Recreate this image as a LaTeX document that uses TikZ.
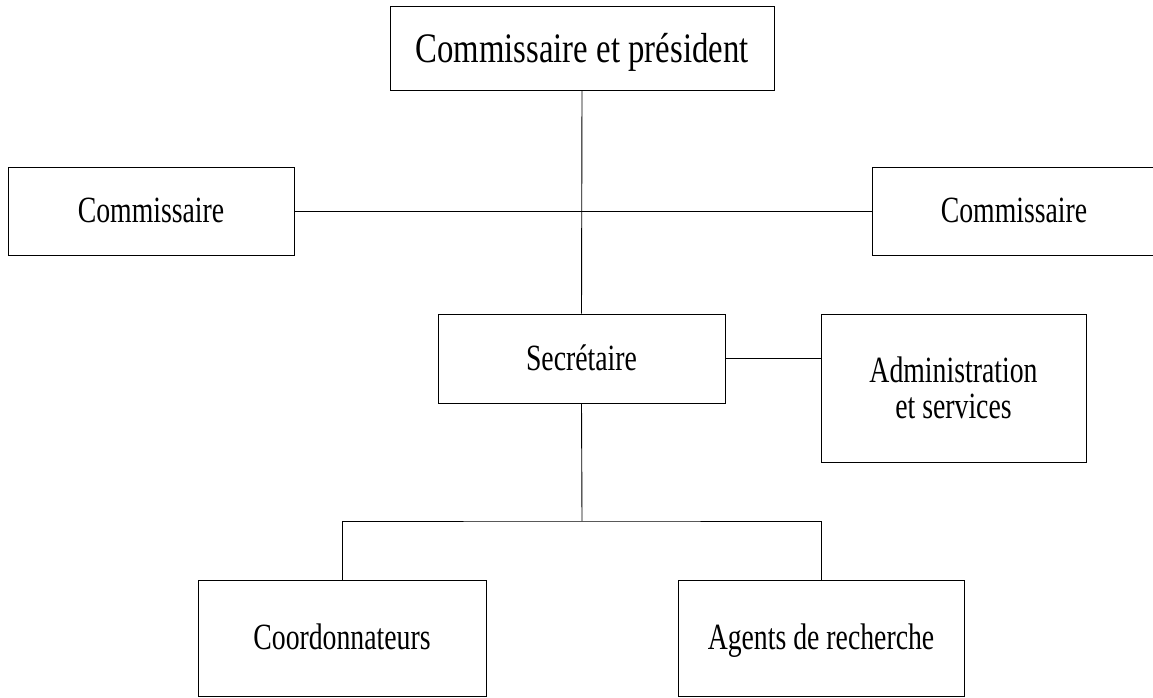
\documentclass[tikz,border=0pt]{standalone}
\usepackage{fontspec}
\setmainfont{Liberation Serif}[FakeStretch=0.75]
\newfontfamily\presfont{Liberation Serif}[FakeStretch=0.78]

\begin{document}
\begin{tikzpicture}[x=1pt, y=-1pt, line width=0.9pt,
    poste/.style={rectangle, draw, inner sep=0pt, align=center,
        font=\fontsize{37}{36}\selectfont},
    ligne/.style={poste, text height=23pt, text depth=0pt}]
    \useasboundingbox (0,0) rectangle (1153,698);

    % Draw the president and the two commissioners
    \node[ligne, minimum width=384pt, minimum height=84pt, text height=30pt,
        font=\presfont\fontsize{42}{44}\selectfont] (pres) at (582,48) {Commissaire et président};
    \node[ligne, minimum width=286pt, minimum height=88pt] (com1) at (151,211) {Commissaire};
    \node[ligne, minimum width=284pt, minimum height=88pt] (com2) at (1014,211) {Commissaire};

    % Draw the secretary and the services under it
    \node[ligne, minimum width=287pt, minimum height=89pt] (secr) at (581.5,358.5) {Secrétaire};
    \node[poste, minimum width=265pt, minimum height=148pt] (admin) at (953.5,388) {Administration\\et services};
    \node[ligne, minimum width=288pt, minimum height=116pt] (coord) at (342,638) {Coordonnateurs};
    \node[ligne, minimum width=286pt, minimum height=116pt] (agents) at (821,638) {Agents de recherche};
    \coordinate (fork) at (582,521);

    % Draw all links
    \draw (pres.south) -- (secr.north); % president to secretary
    \draw (com1.east) -- (com2.west); % commissioner to commissioner
    \draw (secr.east) -- (secr.east -| admin.west); % secretary to services
    \draw (secr.south) -- (fork);
    \draw (coord.north) |- (fork) -| (agents.north); % secretary to both teams

\end{tikzpicture}
\end{document}
